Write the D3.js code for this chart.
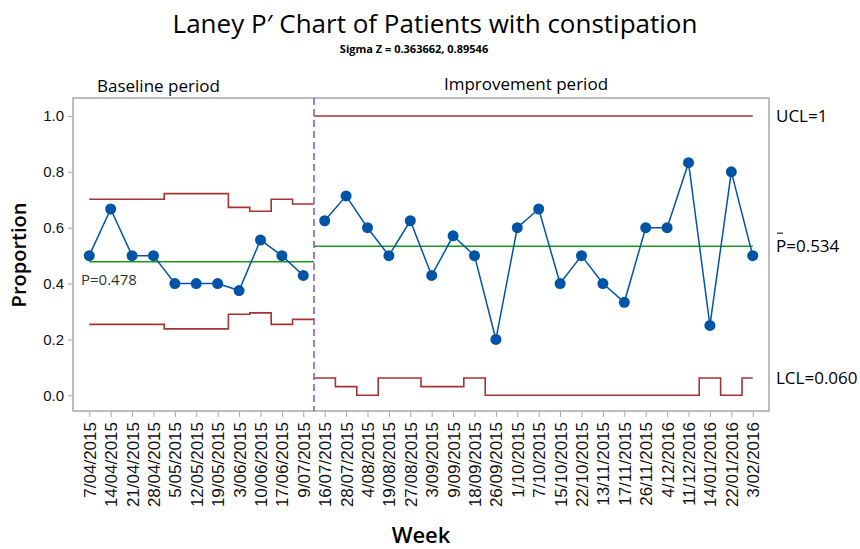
<!DOCTYPE html>
<html>
<head>
<meta charset="utf-8">
<script src="https://cdn.jsdelivr.net/npm/d3@7"></script>
<style>
  body { margin: 0; background: #fff; }
  svg { display: block; font-family: "Open Sans", "Noto Sans", sans-serif; }
</style>
</head>
<body>
<svg id="chart" width="860" height="549"></svg>
<script>
// weeks (x categories)
const weeks = [
  '7/04/2015', '14/04/2015', '21/04/2015', '28/04/2015', '5/05/2015', '12/05/2015',
  '19/05/2015', '3/06/2015', '10/06/2015', '17/06/2015', '9/07/2015',
  '16/07/2015', '28/07/2015', '4/08/2015', '19/08/2015', '27/08/2015', '3/09/2015',
  '9/09/2015', '18/09/2015', '26/09/2015', '1/10/2015', '7/10/2015', '15/10/2015',
  '22/10/2015', '13/11/2015', '17/11/2015', '26/11/2015', '4/12/2016', '11/12/2016',
  '14/01/2016', '22/01/2016', '3/02/2016'
];
// proportion per week
const proportion = [
  0.5, 0.667, 0.5, 0.5, 0.4, 0.4, 0.4, 0.375, 0.556, 0.5, 0.429,
  0.625, 0.714, 0.6, 0.5, 0.625, 0.429, 0.571, 0.5, 0.2, 0.6, 0.667,
  0.4, 0.5, 0.4, 0.333, 0.6, 0.6, 0.833, 0.25, 0.8, 0.5
];
// control limits per point
const ucl = [
  0.702, 0.702, 0.702, 0.702, 0.722, 0.722, 0.722, 0.673, 0.659, 0.702, 0.685,
  1, 1, 1, 1, 1, 1, 1, 1, 1, 1, 1, 1, 1, 1, 1, 1, 1, 1, 1, 1, 1
];
const lcl = [
  0.254, 0.254, 0.254, 0.254, 0.238, 0.238, 0.238, 0.29, 0.295, 0.254, 0.272,
  0.062, 0.031, 0, 0.062, 0.062, 0.031, 0.031, 0.062, 0, 0, 0, 0, 0, 0, 0, 0, 0, 0,
  0.062, 0, 0.062
];
const stages = [
  { name: 'Baseline period', start: 0, end: 10, center: 0.478 },
  { name: 'Improvement period', start: 11, end: 31, center: 0.534 }
];
const yTicks = [0, 0.2, 0.4, 0.6, 0.8, 1.0];

const svg = d3.select('#chart');
const plotL = 73, plotR = 769, plotT = 98, plotB = 411;

const x = d3.scaleLinear().domain([-0.76, weeks.length - 0.24]).range([plotL, plotR]);
const y = d3.scaleLinear().domain([0, 1]).range([395.3, 116]);

const red = '#a83232', green = '#1a9a1a', blue = '#0054a6', purple = '#7b52d8';

// Title
svg.append('text')
  .attr('x', 435).attr('y', 33)
  .attr('text-anchor', 'middle')
  .attr('font-size', '26px')
  .attr('font-weight', '500')
  .attr('fill', '#000')
  .text('Laney P\u2032 Chart of Patients with constipation');

svg.append('text')
  .attr('x', 414).attr('y', 53)
  .attr('text-anchor', 'middle')
  .attr('font-size', '11px')
  .attr('font-weight', '700')
  .text('Sigma Z = 0.363662, 0.89546');

// Frame
svg.append('rect')
  .attr('x', plotL).attr('y', plotT)
  .attr('width', plotR - plotL).attr('height', plotB - plotT)
  .attr('fill', 'none')
  .attr('stroke', '#a8a8a8')
  .attr('stroke-width', 1.5);

// Y axis
const yAxis = svg.append('g')
  .attr('transform', `translate(${plotL},0)`)
  .call(d3.axisLeft(y).tickValues(yTicks).tickFormat(d3.format('.1f')).tickSize(5).tickPadding(4));
yAxis.select('.domain').remove();
yAxis.selectAll('line').attr('stroke', '#a8a8a8');
yAxis.selectAll('text').attr('font-size', '15px').attr('font-weight', '500')
  .attr('fill', '#111').attr('font-family', null);

svg.append('text')
  .attr('transform', 'translate(26,255) rotate(-90)')
  .attr('text-anchor', 'middle')
  .attr('font-size', '20px')
  .attr('font-weight', '600')
  .text('Proportion');

// X axis
const xAxis = svg.append('g')
  .attr('transform', `translate(0,${plotB})`)
  .call(d3.axisBottom(x).tickValues(d3.range(weeks.length)).tickFormat(i => weeks[i]).tickSize(6).tickPadding(5));
xAxis.select('.domain').remove();
xAxis.selectAll('line').attr('stroke', '#a8a8a8');
xAxis.selectAll('text')
  .attr('font-size', '17px').attr('font-weight', '500')
  .attr('fill', '#111').attr('font-family', null)
  .attr('text-anchor', 'end')
  .attr('transform', 'rotate(-90)')
  .attr('x', -11).attr('y', 0).attr('dy', '0.35em');

svg.append('text')
  .attr('x', 421).attr('y', 543)
  .attr('text-anchor', 'middle')
  .attr('font-size', '22px')
  .attr('font-weight', '600')
  .text('Week');

// step path for limits, clipped to first/last point
const xMin = x(0), xMax = x(weeks.length - 1);
function stepPath(vals, from, to) {
  const p = d3.path();
  for (let i = from; i <= to; i++) {
    const x0 = Math.max(x(i - 0.5), xMin), x1 = Math.min(x(i + 0.5), xMax);
    if (i === from) p.moveTo(x0, y(vals[i]));
    else p.lineTo(x0, y(vals[i]));
    p.lineTo(x1, y(vals[i]));
  }
  return p.toString();
}

stages.forEach(s => {
  [ucl, lcl].forEach(vals => {
    svg.append('path')
      .attr('d', stepPath(vals, s.start, s.end))
      .attr('fill', 'none')
      .attr('stroke', red)
      .attr('stroke-width', 1.6);
  });
  svg.append('line')
    .attr('x1', Math.max(x(s.start - 0.5), xMin))
    .attr('x2', Math.min(x(s.end + 0.5), xMax))
    .attr('y1', y(s.center)).attr('y2', y(s.center))
    .attr('stroke', green)
    .attr('stroke-width', 1.5);
});

// stage divider
svg.append('line')
  .attr('x1', x(10.5)).attr('x2', x(10.5))
  .attr('y1', plotT).attr('y2', plotB)
  .attr('stroke', purple)
  .attr('stroke-width', 1.5)
  .attr('stroke-dasharray', '7,4');

// Stage labels
svg.append('text')
  .attr('x', 97).attr('y', 92)
  .attr('font-size', '17px')
  .text(stages[0].name);
svg.append('text')
  .attr('x', 526).attr('y', 90)
  .attr('text-anchor', 'middle')
  .attr('font-size', '17px')
  .text(stages[1].name);

// Data line and points
stages.forEach(s => {
  const idx = d3.range(s.start, s.end + 1);
  svg.append('path')
    .datum(idx)
    .attr('d', d3.line().x(i => x(i)).y(i => y(proportion[i])))
    .attr('fill', 'none')
    .attr('stroke', blue)
    .attr('stroke-width', 1.5);
});

svg.selectAll('.pt')
  .data(proportion)
  .enter()
  .append('circle')
  .attr('class', 'pt')
  .attr('cx', (d, i) => x(i))
  .attr('cy', d => y(d))
  .attr('r', 5.5)
  .attr('fill', blue);

// Limit labels
const lastU = ucl[ucl.length - 1];
svg.append('text')
  .attr('x', 776).attr('y', y(lastU)).attr('dy', '0.35em')
  .attr('font-size', '17px')
  .text('UCL=' + d3.format('')(lastU));
svg.append('text')
  .attr('x', 776).attr('y', y(0.06)).attr('dy', '0.35em')
  .attr('font-size', '17px')
  .text('LCL=' + d3.format('.3f')(0.06));
svg.append('text')
  .attr('x', 776).attr('y', y(stages[1].center)).attr('dy', '0.35em')
  .attr('font-size', '17px')
  .text('P=' + d3.format('.3f')(stages[1].center));
svg.append('line')
  .attr('x1', 777).attr('x2', 783)
  .attr('y1', y(stages[1].center) - 13).attr('y2', y(stages[1].center) - 13)
  .attr('stroke', '#000').attr('stroke-width', 1);

svg.append('text')
  .attr('x', 81).attr('y', y(stages[0].center) + 18).attr('dy', '0.35em')
  .attr('font-size', '15px')
  .attr('fill', '#333')
  .text('P=' + d3.format('.3f')(stages[0].center));
</script>
</body>
</html>
